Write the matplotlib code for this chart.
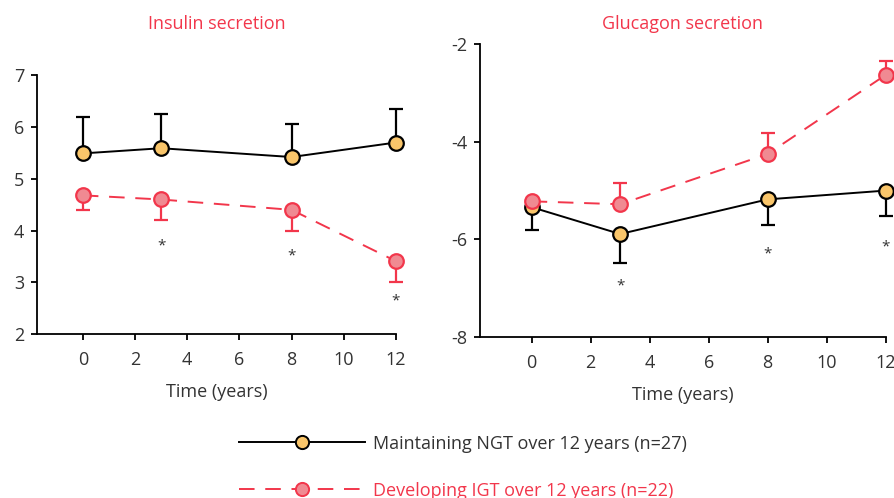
import matplotlib.pyplot as plt
from matplotlib.lines import Line2D

plt.rcParams['font.family'] = ['Open Sans', 'DejaVu Sans']
plt.rcParams['axes.unicode_minus'] = False

years = [0, 3, 8, 12]
x_ticks = [0, 2, 4, 6, 8, 10, 12]

# insulin secretion
ins_ngt = [5.49, 5.59, 5.42, 5.70]
ins_ngt_up = [0.70, 0.66, 0.63, 0.64]
ins_igt = [4.68, 4.60, 4.40, 3.41]
ins_igt_down = [0.28, 0.40, 0.40, 0.41]
ins_star_x = [3, 8, 12]
ins_star_y = [3.70, 3.51, 2.64]

# glucagon secretion
glu_ngt = [-5.34, -5.89, -5.18, -5.00]
glu_ngt_down = [0.46, 0.59, 0.52, 0.52]
glu_igt = [-5.22, -5.28, -4.25, -2.63]
glu_igt_up = [0.0, 0.43, 0.43, 0.28]
glu_star_x = [3, 8, 12]
glu_star_y = [-6.96, -6.30, -6.16]

RED = '#f2364b'
TXT = '#333333'
NGT_FACE = '#f9c56a'
IGT_FACE = '#f08a92'

fig = plt.figure(figsize=(8.95, 4.98), dpi=100)
ax1 = fig.add_axes([0.0413, 0.329, 0.401, 0.520])
ax2 = fig.add_axes([0.536, 0.3233, 0.4536, 0.588])


def series(ax, y, err_lo, err_hi, color, face, ls):
    ax.errorbar(years, y, yerr=[err_lo, err_hi], fmt='none', ecolor=color,
                elinewidth=1.6, capsize=5, capthick=1.6, zorder=2, clip_on=False)
    line, = ax.plot(years, y, color=color, lw=1.4, ls=ls, marker='o', ms=10.5,
                    mfc=face, mec=color, mew=1.6, zorder=3, clip_on=False)
    if ls == '--':
        line.set_dashes((8, 5.5))
    return line


def style(ax, ylim, yticks, title):
    ax.set_xlim(-1.76, 12)
    ax.set_ylim(*ylim)
    ax.set_xticks(x_ticks)
    ax.set_yticks(yticks)
    for s in ['top', 'right']:
        ax.spines[s].set_visible(False)
    for s in ['left', 'bottom']:
        ax.spines[s].set_linewidth(1.3)
    ax.tick_params(direction='out', length=4, width=1.3, labelsize=13,
                   labelcolor=TXT)
    ax.tick_params(axis='x', pad=8)
    ax.tick_params(axis='y', pad=5)
    ax.set_xlabel('Time (years)', fontsize=13, color=TXT, labelpad=10)
    fig.text((ax.get_position().x0 + ax.get_position().x1) / 2, 0.952, title,
             color=RED, fontsize=13, ha='center', va='center')


series(ax1, ins_ngt, [0] * 4, ins_ngt_up, 'black', NGT_FACE, '-')
series(ax1, ins_igt, ins_igt_down, [0] * 4, RED, IGT_FACE, '--')
for xs, ys in zip(ins_star_x, ins_star_y):
    ax1.text(xs, ys, '*', ha='center', va='center', fontsize=11, color=TXT)
style(ax1, (2, 7), [2, 3, 4, 5, 6, 7], 'Insulin secretion')

series(ax2, glu_ngt, glu_ngt_down, [0] * 4, 'black', NGT_FACE, '-')
series(ax2, glu_igt, [0] * 4, glu_igt_up, RED, IGT_FACE, '--')
for xs, ys in zip(glu_star_x, glu_star_y):
    ax2.text(xs, ys, '*', ha='center', va='center', fontsize=11, color=TXT,
             clip_on=False)
style(ax2, (-8, -2), [-8, -6, -4, -2], 'Glucagon secretion')

h1 = Line2D([], [], color='black', lw=1.4, marker='o', ms=9.5,
            mfc=NGT_FACE, mec='black', mew=1.4)
h2 = Line2D([], [], color=RED, lw=1.4, ls=(0, (8, 5.5)), marker='o', ms=9.5,
            mfc=IGT_FACE, mec=RED, mew=1.4)
leg = fig.legend([h1, h2], ['Maintaining NGT over 12 years (n=27)',
                            'Developing IGT over 12 years (n=22)'],
                 loc='upper left', bbox_to_anchor=(0.267, 0.127),
                 frameon=False, fontsize=13, handlelength=7.0,
                 handletextpad=0.4, labelspacing=1.6, borderpad=0,
                 borderaxespad=0)
leg.get_texts()[0].set_color(TXT)
leg.get_texts()[1].set_color(RED)

fig.savefig('out.png', dpi=100)
